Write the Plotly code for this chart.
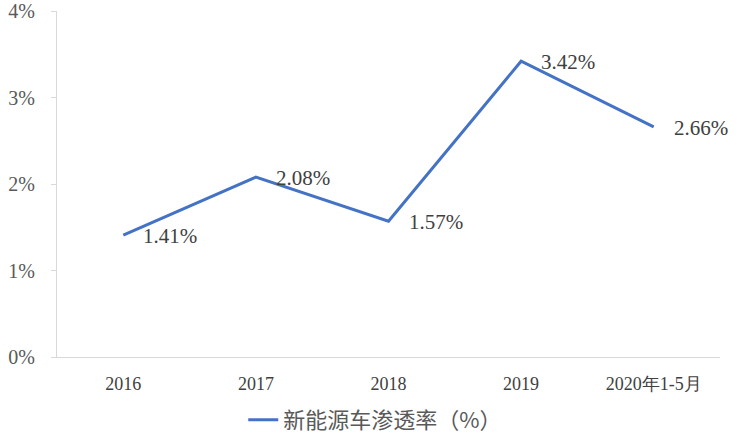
import plotly.graph_objects as go

categories = ["2016", "2017", "2018", "2019", "2020年1-5月"]
values = [1.41, 2.08, 1.57, 3.42, 2.66]
labels = ["1.41%", "2.08%", "1.57%", "3.42%", "2.66%"]
series_name = "新能源车渗透率（%）"
y_ticks = [0, 1, 2, 3, 4]
y_tick_text = ["0%", "1%", "2%", "3%", "4%"]

fig = go.Figure()
fig.add_trace(go.Scatter(
    x=categories, y=values, mode="lines", name=series_name,
    line=dict(color="#4472C4", width=3),
))
for i, (v, t) in enumerate(zip(values, labels)):
    fig.add_annotation(x=i, y=v, text=t, showarrow=False, xanchor="left",
                       yanchor="middle", xshift=18, yshift=-1,
                       font=dict(family="Liberation Serif, serif", size=21, color="#404040"))
fig.update_layout(
    width=748, height=442,
    margin=dict(l=57, r=28, t=11, b=85, autoexpand=False),
    plot_bgcolor="white", paper_bgcolor="white",
    showlegend=True,
    legend=dict(orientation="h", x=0.48, xanchor="center", y=-0.182, yanchor="middle",
                font=dict(family="Noto Sans CJK SC", size=22, color="#595959")),
    xaxis=dict(type="category", range=[-0.5, 4.5], showline=True, linecolor="#d9d9d9",
               linewidth=1, ticks="", showgrid=False, automargin=False, ticklabelstandoff=10,
               tickfont=dict(family="Liberation Serif, serif", size=18, color="#404040")),
    yaxis=dict(range=[0, 4], tickvals=y_ticks, ticktext=y_tick_text, showgrid=False,
               zeroline=False, showline=True, linecolor="#d9d9d9", linewidth=1,
               ticks="outside", ticklen=5, tickcolor="#d9d9d9", automargin=False,
               ticklabelstandoff=12,
               tickfont=dict(family="Liberation Serif, serif", size=20, color="#595959")),
)
fig.write_html("out.html", config={"displayModeBar": False},
               post_script="document.body.style.margin='0';document.body.style.padding='0';")
